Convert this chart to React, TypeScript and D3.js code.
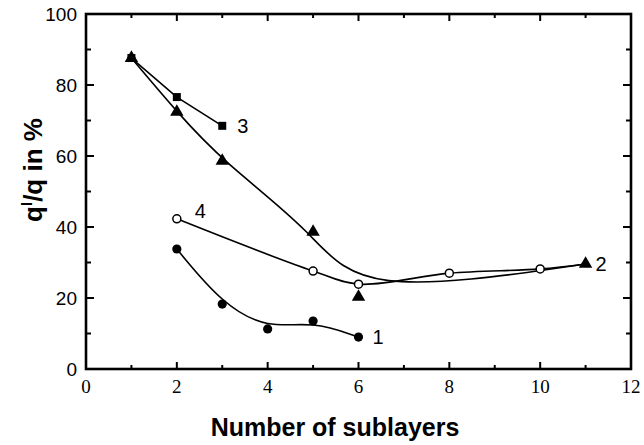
import React from "react";
import * as d3 from "d3";

const xTicks = [0, 2, 4, 6, 8, 10, 12];
const yTicks = [0, 20, 40, 60, 80, 100];

const s1x = [2, 3, 4, 5, 6];
const s1y = [33.8, 18.3, 11.3, 13.5, 9.0];
const s2x = [1, 2, 3, 5, 6, 11];
const s2y = [87.6, 72.4, 58.6, 38.6, 20.3, 29.6];
const s3x = [1, 2, 3];
const s3y = [87.6, 76.6, 68.5];
const s4x = [2, 5, 6, 8, 10];
const s4y = [42.3, 27.6, 23.9, 27.0, 28.2];
const s4EndX = 11;
const s4EndY = 29.6;

const W = 644, H = 445;
const L = 86, R = 631, T = 14, B = 369;

export default function App() {
  const x = d3.scaleLinear().domain([0, 12]).range([L, R]);
  const y = d3.scaleLinear().domain([0, 100]).range([B, T]);
  const pts = (xs: number[], ys: number[]) => xs.map((v, i) => [x(v), y(ys[i])] as [number, number]);

  const basis = d3.line().curve(d3.curveBasis);
  const lin = d3.line();
  const cat = d3.line().curve(d3.curveCatmullRom.alpha(0.5));

  const p1 = pts(s1x, s1y);
  const p2 = pts(s2x, s2y);
  const p3 = pts(s3x, s3y);
  const p4 = pts(s4x, s4y);
  const p4line = [...p4, [x(s4EndX), y(s4EndY)] as [number, number]];

  const xMinor = d3.range(1, 12, 2);
  const yMinor = d3.range(10, 100, 20);
  const tri = d3.symbol().type(d3.symbolTriangle).size(78)();

  return (
    <svg width={W} height={H} style={{ position: "absolute", left: 0, top: 0 }}>
      <rect width={W} height={H} fill="#fff" />
      {/* curves */}
      <g fill="none" stroke="#000" strokeWidth={1.6}>
        <path d={basis(p1) || ""} />
        <path d={basis(p2) || ""} />
        <path d={lin(p3) || ""} />
        <path d={cat(p4line) || ""} />
      </g>
      {/* markers */}
      {p1.map((p, i) => <circle key={"a" + i} cx={p[0]} cy={p[1]} r={4.6} fill="#000" />)}
      {p2.map((p, i) => <path key={"b" + i} d={tri || ""} transform={`translate(${p[0]},${p[1]})`} fill="#000" />)}
      {p3.map((p, i) => <rect key={"c" + i} x={p[0] - 4} y={p[1] - 4} width={8} height={8} fill="#000" />)}
      {p4.map((p, i) => <circle key={"d" + i} cx={p[0]} cy={p[1]} r={4} fill="#fff" stroke="#000" strokeWidth={1.5} />)}
      {/* series labels */}
      <g fontFamily="Liberation Sans, Arial, sans-serif" fontSize={20} fill="#000">
        <text x={x(6) + 14} y={y(s1y[4]) + 7}>1</text>
        <text x={x(11) + 10} y={y(s2y[5]) + 7}>2</text>
        <text x={x(3) + 15} y={y(s3y[2]) + 7}>3</text>
        <text x={x(2) + 18} y={y(s4y[0]) - 1}>4</text>
      </g>
      {/* frame */}
      <rect x={L} y={T} width={R - L} height={B - T} fill="none" stroke="#000" strokeWidth={2.6} />
      {/* ticks */}
      <g stroke="#000" strokeWidth={2}>
        {xTicks.slice(1, -1).map((t) => (
          <g key={"xt" + t}>
            <line x1={x(t)} x2={x(t)} y1={B} y2={B - 7} />
            <line x1={x(t)} x2={x(t)} y1={T} y2={T + 7} />
          </g>
        ))}
        {xMinor.map((t) => (
          <g key={"xm" + t}>
            <line x1={x(t)} x2={x(t)} y1={B} y2={B - 4} />
            <line x1={x(t)} x2={x(t)} y1={T} y2={T + 4} />
          </g>
        ))}
        {yTicks.slice(1, -1).map((t) => (
          <g key={"yt" + t}>
            <line x1={L} x2={L + 8} y1={y(t)} y2={y(t)} />
            <line x1={R} x2={R - 8} y1={y(t)} y2={y(t)} />
          </g>
        ))}
        {yMinor.map((t) => (
          <g key={"ym" + t}>
            <line x1={L} x2={L + 5} y1={y(t)} y2={y(t)} />
            <line x1={R} x2={R - 5} y1={y(t)} y2={y(t)} />
          </g>
        ))}
      </g>
      {/* y tick labels */}
      <g fontFamily="Liberation Sans, Arial, sans-serif" fontSize={19} fill="#000" textAnchor="end">
        {yTicks.map((t) => (
          <text key={"yl" + t} x={L - 9} y={y(t) + 7}>{t}</text>
        ))}
      </g>
      {/* x tick labels */}
      <g fontFamily="Liberation Serif, Times New Roman, serif" fontSize={19} fill="#000" textAnchor="middle">
        {xTicks.map((t) => (
          <text key={"xl" + t} x={x(t)} y={B + 24}>{t}</text>
        ))}
      </g>
      {/* axis titles */}
      <text x={335} y={436} textAnchor="middle" fontFamily="Liberation Sans, Arial, sans-serif" fontWeight="bold" fontSize={25}>
        Number of sublayers
      </text>
      <text transform="translate(42,170) rotate(-90)" textAnchor="middle" fontFamily="Liberation Sans, Arial, sans-serif" fontWeight="bold" fontSize={26}>
        q<tspan dy={-10} fontSize={15}>l</tspan><tspan dy={10}>/q in %</tspan>
      </text>
    </svg>
  );
}
